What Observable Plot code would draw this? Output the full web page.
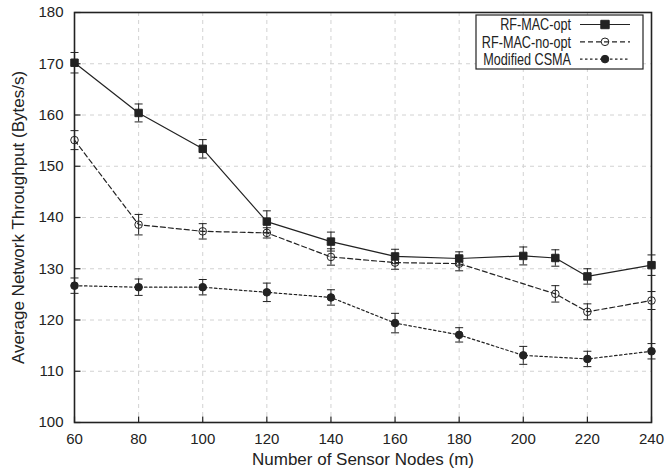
<!DOCTYPE html>
<html><head><meta charset="utf-8">
<script src="https://cdn.jsdelivr.net/npm/d3@7"></script>
<script src="https://cdn.jsdelivr.net/npm/@observablehq/plot@0.6"></script>
<style>body{margin:0;background:#fff} #chart{position:relative;width:668px;height:476px}</style>
</head><body><div id="chart"></div>
<script>
const optX = [60,80,100,120,140,160,180,200,210,220,240];
const optY = [170.2,160.4,153.4,139.2,135.3,132.4,132.0,132.5,132.1,128.5,130.7];
const optErr = [2.0,1.75,1.8,2.1,1.85,1.4,1.3,1.75,1.6,1.5,2.0];
const noOptX = [60,80,100,120,140,160,180,210,220,240];
const noOptY = [155.1,138.6,137.3,137.0,132.3,131.2,131.0,125.1,121.6,123.8];
const noOptErr = [1.85,2.0,1.5,1.0,1.6,1.3,1.4,1.6,1.55,1.75];
const csmaX = [60,80,100,120,140,160,180,200,220,240];
const csmaY = [126.7,126.4,126.4,125.4,124.4,119.4,117.1,113.1,112.4,113.9];
const csmaErr = [1.5,1.6,1.5,1.8,1.5,1.9,1.4,1.75,1.5,1.5];
const seriesNames = ["RF-MAC-opt","RF-MAC-no-opt","Modified CSMA"];
const xTicks = [60,80,100,120,140,160,180,200,220,240];
const yTicks = [100,110,120,130,140,150,160,170,180];
const xTitle = "Number of Sensor Nodes (m)";
const yTitle = "Average Network Throughput (Bytes/s)";

const ink = "#222";
const mk = (xs, ys, es) => xs.map((x,i)=>({x, y: ys[i], lo: ys[i]-es[i], hi: ys[i]+es[i]}));
const series = [
  {name: seriesNames[0], data: mk(optX,optY,optErr), dash: null, symbol: "square", fill: ink, r: 4.2},
  {name: seriesNames[1], data: mk(noOptX,noOptY,noOptErr), dash: "5,3", symbol: "circle", fill: "none", r: 3.8},
  {name: seriesNames[2], data: mk(csmaX,csmaY,csmaErr), dash: "2.5,2.5", symbol: "circle", fill: ink, r: 3.8}
];
const hLine = {draw(ctx, size){const r=Math.sqrt(size/Math.PI); ctx.moveTo(-r,0); ctx.lineTo(r,0);}};
const vLine = {draw(ctx, size){const r=Math.sqrt(size/Math.PI); ctx.moveTo(0,-r); ctx.lineTo(0,r);}};

const marks = [
  Plot.ruleX(xTicks, {x: d=>d, stroke:"#d2d2d2", strokeDasharray:"4,4"}),
  Plot.ruleY(yTicks, {y: d=>d, stroke:"#d2d2d2", strokeDasharray:"4,4"}),
  Plot.dot(xTicks, {x: d=>d, frameAnchor:"bottom", symbol:vLine, r:3, dy:-3, stroke:ink, strokeWidth:1.2}),
  Plot.dot(yTicks, {y: d=>d, frameAnchor:"left", symbol:hLine, r:3, dx:3, stroke:ink, strokeWidth:1.2}),
  Plot.axisX({ticks: xTicks, tickSize: 0, tickPadding: 11, label: null, fontSize: 15}),
  Plot.axisY({ticks: yTicks, tickSize: 0, tickPadding: 11, label: null, fontSize: 15}),
  Plot.text([xTitle], {text: d=>d, frameAnchor:"bottom", dy: 42, fontSize: 17, fill: ink}),
  Plot.text([yTitle], {text: d=>d, frameAnchor:"left", textAnchor:"middle", dx: -56, rotate: -90, fontSize: 17, fill: ink})
];
for (const s of series) {
  marks.push(Plot.line(s.data, {x:"x", y:"y", stroke: ink, strokeWidth: 1.2, strokeDasharray: s.dash}));
  marks.push(Plot.ruleX(s.data, {x:"x", y1:"lo", y2:"hi", stroke: ink, strokeWidth: 1}));
  marks.push(Plot.dot(s.data, {x:"x", y:"lo", symbol: hLine, r: 4, stroke: ink, strokeWidth: 1}));
  marks.push(Plot.dot(s.data, {x:"x", y:"hi", symbol: hLine, r: 4, stroke: ink, strokeWidth: 1}));
  marks.push(Plot.dot(s.data, {x:"x", y:"y", symbol: s.symbol, r: s.r, fill: s.fill, stroke: ink, strokeWidth: 1}));
}
marks.push(Plot.frame({stroke: ink, strokeWidth: 1.6}));

const chart = Plot.plot({
  width: 668, height: 476,
  marginLeft: 74, marginRight: 17, marginTop: 12, marginBottom: 54,
  x: {domain: [60,240]},
  y: {domain: [100,180]},
  style: {fontFamily: "'Liberation Sans', Arial, sans-serif", fontSize: "15px", color: ink, background: "#fff"},
  marks
});
document.getElementById("chart").appendChild(chart);

// legend inside the plot, top right
const svg = d3.select(chart);
const lg = svg.append("g").attr("font-family","'Liberation Sans', Arial, sans-serif").attr("font-size", 16);
lg.append("rect").attr("x",476).attr("y",15).attr("width",167).attr("height",54)
  .attr("fill","#fff").attr("stroke",ink).attr("stroke-width",1.2);
const sym = {square: d3.symbol(d3.symbolSquare, 4.2*4.2*4), circle: d3.symbol(d3.symbolCircle, Math.PI*3.8*3.8)};
series.forEach((s,i)=>{
  const y = 24.5 + i*17.3;
  lg.append("text").attr("transform",`translate(571,${y}) scale(0.79,1)`).attr("dy","0.36em")
    .attr("text-anchor","end").attr("fill",ink).text(s.name);
  lg.append("line").attr("x1",580).attr("x2",630).attr("y1",y).attr("y2",y).attr("stroke",ink).attr("stroke-width",1.2)
    .attr("stroke-dasharray", s.dash);
  lg.append("path").attr("d", sym[s.symbol]()).attr("transform",`translate(605,${y})`).attr("fill",s.fill).attr("stroke",ink);
});
</script></body></html>
